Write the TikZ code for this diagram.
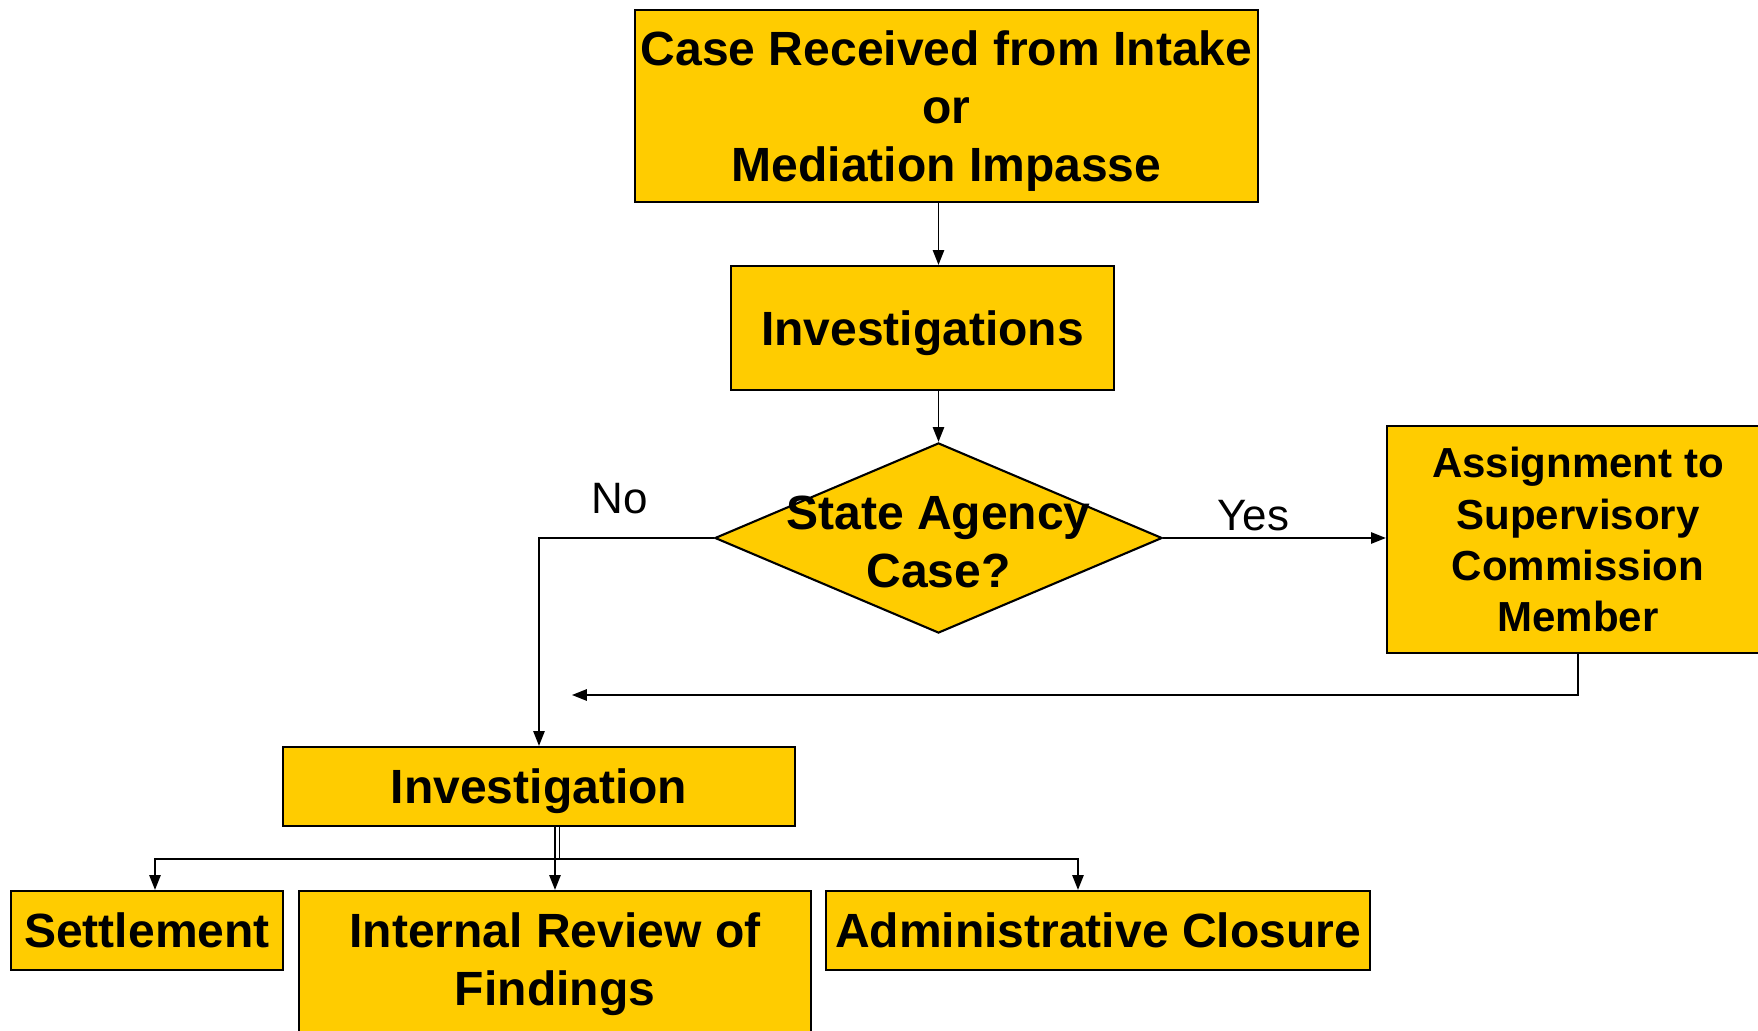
\documentclass[tikz,border=0pt]{standalone}
\usepackage{fontspec}
\setmainfont{Liberation Sans}
\usepackage{tikz}
\usetikzlibrary{arrows.meta,shapes.geometric}
\definecolor{gold}{HTML}{FFCC00}

\begin{document}
\begin{tikzpicture}[->,>={Triangle[length=4.2pt,width=3.2pt]},line width=0.5pt,
                    x=0.01cm,y=-0.01cm]
  \tikzstyle{block}=[rectangle,draw=black,fill=gold,semithick,inner sep=0pt,text depth=0pt,
                     align=center,font=\fontsize{13.66}{16.4}\selectfont\bfseries]
  \tikzstyle{decision}=[diamond,draw=black,fill=gold,semithick,inner sep=0pt]
  \tikzstyle{decisiontext}=[align=center,text depth=0pt,font=\fontsize{13.66}{16.4}\selectfont\bfseries]
  \tikzstyle{answer}=[font=\fontsize{12.5}{15}\selectfont]

  \useasboundingbox (0,0) rectangle (1758,1031);

  \node[block,minimum width=6.23cm,minimum height=1.92cm] (case) at (946.5,106)
        {Case Received from Intake\\or\\Mediation Impasse};
  \node[block,minimum width=3.83cm,minimum height=1.24cm] (invs) at (922.5,328) {Investigations};
  \node[decision,minimum width=4.47cm,minimum height=1.90cm] (dia) at (938.5,538) {};
  \node[decisiontext] (diatext) at (938.5,541.5) {State Agency\\Case?};
  \node[block,minimum width=3.82cm,minimum height=2.27cm,
        font=\fontsize{11.95}{14.57}\selectfont\bfseries] (asg) at (1578,539.5)
        {Assignment to\\Supervisory\\Commission\\Member};
  \node[block,minimum width=5.12cm,minimum height=0.79cm] (inv) at (539,786.5) {Investigation};
  \node[block,minimum width=2.72cm,minimum height=0.79cm] (settle) at (147,930.5) {Settlement};
  \node[block,minimum width=5.12cm,minimum height=1.90cm] (rev) at (555,986) {};
  \node[decisiontext] (revtext) at (555,959) {Internal Review of\\Findings};
  \node[block,minimum width=5.44cm,minimum height=0.79cm] (adm) at (1098,930.5) {Administrative Closure};

  \node[answer] (no)  at (620,499)    {No};
  \node[answer] (yes) at (1253.5,516) {Yes};

  \coordinate (ret) at (572,695);
  \coordinate (bus) at (559.5,859);

  \draw (dia.north |- case.south) -- (dia.north |- invs.north);
  \draw (dia.north |- invs.south) -- (dia.north);
  \draw (dia.west) -| (inv.north);
  \draw (dia.east) -- (dia.east -| asg.west);
  \draw (asg.south) |- (ret);
  \draw (rev.north |- inv.south) -- (rev.north);
  \draw (bus |- inv.south) -- (bus) -| ([xshift=0.08cm]settle.north);
  \draw (bus |- inv.south) -- (bus) -| ([xshift=-0.2cm]adm.north);
\end{tikzpicture}
\end{document}
